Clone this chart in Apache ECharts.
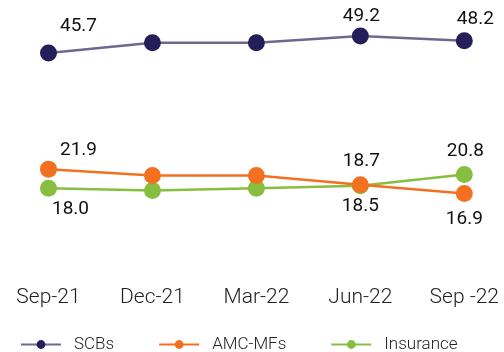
<!DOCTYPE html>
<html>
<head>
<meta charset="utf-8">
<script src="https://cdn.jsdelivr.net/npm/echarts@6/dist/echarts.min.js"></script>
<style>
  html, body { margin: 0; padding: 0; background: #fff; }
  #chart { width: 504px; height: 352px; }
</style>
</head>
<body>
<div id="chart"></div>
<script>
// Quarter labels along the x axis
const categories = ['Sep-21', 'Dec-21', 'Mar-22', 'Jun-22', 'Sep -22'];

// Share by holder group, per quarter
const scbs = [45.7, 47.8, 47.8, 49.2, 48.2];
const amcMfs = [21.9, 20.6, 20.6, 18.7, 16.9];
const insurance = [18.0, 17.5, 18.0, 18.5, 20.8];

// Which points carry a value label, and where the label sits (dx, dy from point centre)
const labelPlacement = {
  scbs:      { 0: [30, -27], 3: [1, -20], 4: [11, -22] },
  amcMfs:    { 0: [30, -19], 3: [1, -23], 4: [0, 26] },
  insurance: { 0: [22, 21], 3: [0, 21], 4: [1, -23] }
};

const FONT = 'Roboto, "Noto Sans", sans-serif';

function buildData(values, placement) {
  return values.map((v, i) => {
    const off = placement[i];
    if (!off) return { value: v, label: { show: false } };
    return {
      value: v,
      label: {
        show: true,
        position: 'inside',
        offset: off,
        formatter: (p) => p.value.toFixed(1),
        color: '#111',
        fontSize: 19,
        fontFamily: FONT
      }
    };
  });
}

function lineSeries(name, values, placement, markerColor, lineColor, z) {
  return {
    name: name,
    type: 'line',
    z: z,
    data: buildData(values, placement),
    symbol: 'circle',
    symbolSize: 17,
    itemStyle: { color: markerColor },
    lineStyle: { color: lineColor, width: 2.5 },
    emphasis: { disabled: true },
    animation: false
  };
}

const chart = echarts.init(document.getElementById('chart'), null, { renderer: 'canvas' });

chart.setOption({
  backgroundColor: '#ffffff',
  animation: false,
  grid: { left: 48.5, right: 39.7, top: 32, bottom: 76, containLabel: false },
  xAxis: {
    type: 'category',
    data: categories,
    boundaryGap: false,
    axisLine: { show: false },
    axisTick: { show: false },
    splitLine: { show: false },
    axisLabel: {
      color: '#222',
      fontSize: 21,
      fontWeight: 300,
      fontFamily: FONT,
      margin: 11,
      interval: 0
    }
  },
  yAxis: {
    type: 'value',
    min: 0,
    max: 50,
    show: false,
    splitLine: { show: false }
  },
  legend: {
    left: 15,
    top: 331,
    itemWidth: 40,
    itemHeight: 11,
    itemGap: 44,
    textStyle: {
      color: '#222',
      fontSize: 17,
      fontWeight: 300,
      fontFamily: FONT,
      padding: [0, 0, 0, 8]
    },
    data: ['SCBs', 'AMC-MFs', 'Insurance']
  },
  series: [
    lineSeries('SCBs', scbs, labelPlacement.scbs, '#241f58', '#6d6890', 2),
    lineSeries('Insurance', insurance, labelPlacement.insurance, '#86bf3f', '#86bf3f', 3),
    lineSeries('AMC-MFs', amcMfs, labelPlacement.amcMfs, '#f37021', '#f37021', 4)
  ]
});
</script>
</body>
</html>
